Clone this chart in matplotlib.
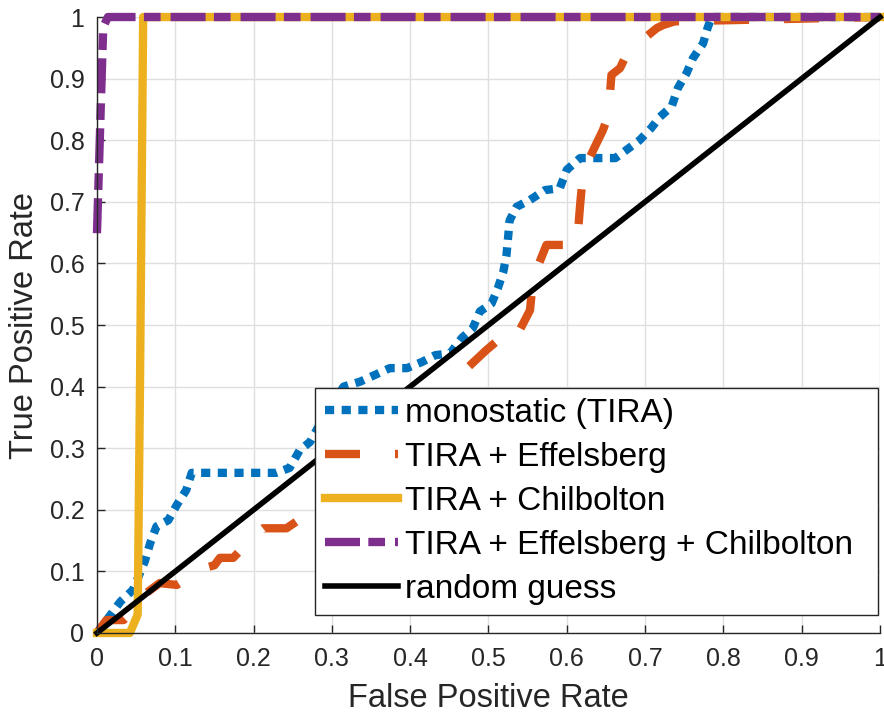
import matplotlib
matplotlib.use("Agg")
import matplotlib.pyplot as plt

plt.rcParams['font.family'] = ['Liberation Sans', 'DejaVu Sans']

# ROC curves
fpr_mono = [0, 0.03, 0.046, 0.061, 0.068, 0.076, 0.091, 0.102, 0.114, 0.121,
            0.229, 0.246, 0.259, 0.272, 0.285, 0.30, 0.315, 0.336, 0.355,
            0.374, 0.396, 0.415, 0.432, 0.451, 0.466, 0.48, 0.489, 0.504,
            0.512, 0.519, 0.523, 0.527, 0.536, 0.553, 0.572, 0.591, 0.60,
            0.617, 0.662, 0.676, 0.693, 0.708, 0.719, 0.734, 0.742, 0.753,
            0.761, 0.774, 0.78, 0.785, 1.0]
tpr_mono = [0, 0.051, 0.07, 0.116, 0.146, 0.173, 0.183, 0.208, 0.232, 0.26,
            0.26, 0.268, 0.297, 0.31, 0.34, 0.37, 0.40, 0.408, 0.419, 0.43,
            0.43, 0.44, 0.451, 0.454, 0.479, 0.495, 0.522, 0.535, 0.56, 0.587,
            0.614, 0.67, 0.692, 0.703, 0.719, 0.722, 0.752, 0.771, 0.771,
            0.784, 0.80, 0.82, 0.838, 0.855, 0.885, 0.909, 0.933, 0.957,
            0.983, 1.0, 1.0]

fpr_eff = [0, 0.012, 0.034, 0.05, 0.063, 0.08, 0.102, 0.136, 0.15, 0.157,
           0.174, 0.204, 0.212, 0.242, 0.30, 0.38, 0.44, 0.462, 0.466, 0.497,
           0.51, 0.531, 0.553, 0.557, 0.574, 0.613, 0.617, 0.621, 0.638,
           0.646, 0.653, 0.657, 0.668, 0.678, 0.715, 0.723, 0.738, 1.0]
tpr_eff = [0, 0.021, 0.021, 0.04, 0.065, 0.081, 0.078, 0.105, 0.11, 0.122,
           0.122, 0.162, 0.17, 0.17, 0.22, 0.3, 0.33, 0.38, 0.422, 0.459,
           0.473, 0.47, 0.524, 0.576, 0.63, 0.63, 0.695, 0.75, 0.795, 0.816,
           0.84, 0.906, 0.917, 0.944, 0.982, 0.987, 0.993, 1.0]

fpr_chil = [0, 0.042, 0.052, 0.055, 0.059, 1.0]
tpr_chil = [0, 0, 0.03, 0.41, 1.0, 1.0]

fpr_both = [0, 0.006, 0.008, 0.014, 1.0]
tpr_both = [0.649, 0.903, 0.984, 1.0, 1.0]

fpr_rand = [0, 1]
tpr_rand = [0, 1]

labels = ['monostatic (TIRA)', 'TIRA + Effelsberg', 'TIRA + Chilbolton',
          'TIRA + Effelsberg + Chilbolton', 'random guess']
tick_vals = [0, 0.1, 0.2, 0.3, 0.4, 0.5, 0.6, 0.7, 0.8, 0.9, 1]
tick_text = ['0', '0.1', '0.2', '0.3', '0.4', '0.5', '0.6', '0.7', '0.8',
             '0.9', '1']

fig = plt.figure(figsize=(8.84, 7.15), dpi=100)
ax = fig.add_axes([0.1097, 0.1147, 0.8858, 0.8615])

lw = 6
ax.plot(fpr_mono, tpr_mono, color='#0072BD', lw=lw, dashes=(1.1, 0.9),
        dash_capstyle='butt', label=labels[0], clip_on=False)
ax.plot(fpr_eff, tpr_eff, color='#D95319', lw=lw, dashes=(4.2, 4.2),
        label=labels[1], clip_on=False)
ax.plot(fpr_chil, tpr_chil, color='#EDB120', lw=lw, label=labels[2],
        clip_on=False)
ax.plot(fpr_both, tpr_both, color='#7E2F8E', lw=lw,
        dashes=(4.2, 1.0, 2.0, 1.2), label=labels[3], clip_on=False)
ax.plot(fpr_rand, tpr_rand, color='black', lw=4, label=labels[4],
        clip_on=False)

ax.set_xlim(0, 1)
ax.set_ylim(0, 1)
ax.set_xticks(tick_vals)
ax.set_yticks(tick_vals)
ax.set_xticklabels(tick_text)
ax.set_yticklabels(tick_text)
ax.grid(True, color='#dfdfdf', lw=1)
ax.set_axisbelow(True)
for s in ['top', 'right']:
    ax.spines[s].set_visible(False)
for s in ['left', 'bottom']:
    ax.spines[s].set_color('#262626')
    ax.spines[s].set_linewidth(1)
ax.tick_params(direction='in', length=6, width=1, colors='#262626',
               labelsize=18)
ax.tick_params(axis='x', pad=10)
ax.tick_params(axis='y', pad=9)

ax.set_xlabel('False Positive Rate', fontsize=23.5, color='#262626',
              labelpad=9)
ax.set_ylabel('True Positive Rate', fontsize=23.5, color='#262626')
ax.yaxis.set_label_coords(-0.073, 0.5)

leg = ax.legend(loc='lower left', bbox_to_anchor=(0.278, 0.029, 0.719, 0.37),
                mode='expand', borderaxespad=0, fontsize=24,
                handlelength=2.2, handletextpad=0.2, borderpad=0.3,
                labelspacing=0.39, fancybox=False, framealpha=1)
leg.get_frame().set_edgecolor('#262626')
leg.get_frame().set_linewidth(1)

fig.savefig('out.png', dpi=100)
